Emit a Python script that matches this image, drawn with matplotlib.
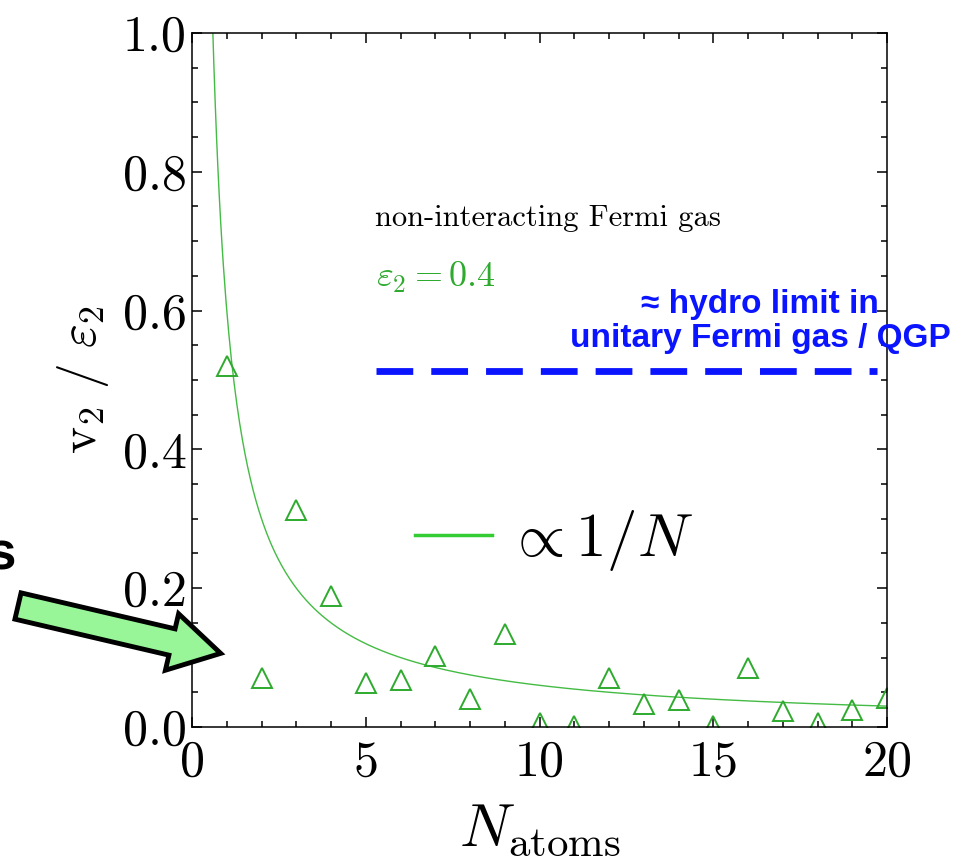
import numpy as np
from matplotlib import pyplot as plt
from matplotlib.lines import Line2D
from matplotlib.patches import FancyArrow
from matplotlib.transforms import IdentityTransform
from matplotlib.ticker import MultipleLocator, FuncFormatter

# simulated v2/eps2 per atom number
n_atoms = [1, 2, 3, 4, 5, 6, 7, 8, 9, 10, 11, 12, 13, 14, 15, 16, 17, 18, 19, 20]
v2_over_eps2 = [0.52, 0.071, 0.313, 0.189, 0.063, 0.068, 0.102, 0.040, 0.134, 0.006,
                0.001, 0.071, 0.033, 0.039, 0.001, 0.085, 0.023, 0.006, 0.024, 0.042]
fit_coef = 0.6          # curve ~ fit_coef / N
hydro_level = 0.513
hydro_range = [5.3, 19.7]

plt.rcParams['mathtext.fontset'] = 'cm'
plt.rcParams['font.family'] = ['cmr10', 'DejaVu Serif']
plt.rcParams['axes.formatter.use_mathtext'] = True

fig = plt.figure(figsize=(9.61, 8.59), dpi=100)
ax = fig.add_axes([0.1998, 0.1537, 0.7234, 0.8079])

green = '#2eaa2e'
n_fit = np.linspace(0.55, 20, 500)
ax.plot(n_fit, fit_coef / n_fit, color='#44bb44', lw=1.0)
ax.plot(n_atoms, v2_over_eps2, linestyle='none', marker='^', ms=14, mfc='none',
        mec=green, mew=1.4, clip_on=True)
ax.plot(hydro_range, [hydro_level, hydro_level], color='#0a14ff', lw=4.9,
        dashes=(5.4, 2.65), solid_capstyle='butt', dash_capstyle='butt')

ax.set_xlim(0, 20)
ax.set_ylim(0, 1.0)
ax.xaxis.set_major_locator(MultipleLocator(5))
ax.xaxis.set_minor_locator(MultipleLocator(1))
ax.yaxis.set_major_locator(MultipleLocator(0.2))
ax.yaxis.set_minor_locator(MultipleLocator(0.05))
ax.xaxis.set_major_formatter(FuncFormatter(lambda v, p: f'{v:.0f}'))
ax.yaxis.set_major_formatter(FuncFormatter(lambda v, p: f'{v:.1f}'))
ax.tick_params(which='both', direction='in', top=True, right=True, width=1.1)
ax.tick_params(which='major', length=7, labelsize=36, pad=4)
ax.tick_params(which='minor', length=4.5)
ax.tick_params(axis='x', which='major', pad=9)
for s in ax.spines.values():
    s.set_linewidth(1.1)

ax.set_xlabel(r'$N_{\mathrm{atoms}}$', fontsize=44, labelpad=12)
ax.set_ylabel(r'$\mathrm{v}_2\ /\ \varepsilon_2$', fontsize=37, labelpad=8)

ax.text(0.263, 0.733, 'non-interacting Fermi gas', transform=ax.transAxes,
        fontsize=22, color='black', va='center', ha='left')
ax.text(0.265, 0.648, r'$\varepsilon_2 = 0.4$', transform=ax.transAxes,
        fontsize=26, color=green, va='center', ha='left')
ax.text(0.817, 0.584, '\u2248 hydro limit in\nunitary Fermi gas / QGP', transform=ax.transAxes,
        fontsize=24, color='#0a14ff', fontweight='bold', family='Liberation Sans',
        ha='center', va='center', linespacing=1.15, clip_on=False)

proxy = Line2D([], [], color='#33cc33', lw=2.5)
ax.legend(handles=[proxy], labels=[r'$\propto 1/N$'], loc='center left',
          bbox_to_anchor=(0.321, 0.268), fontsize=44, frameon=False,
          borderaxespad=0, borderpad=0, handlelength=1.26, handletextpad=0.25)

# annotation arrow from the left (pixel coordinates)
fig.add_artist(FancyArrow(18, 859 - 606, 154, -36, width=27, head_width=58,
                          head_length=50, length_includes_head=False,
                          transform=IdentityTransform(), fc='#98f598', ec='black',
                          lw=3.5, joinstyle='miter'))
fig.text(15 / 961, 1 - 555 / 859, 's', fontsize=38, fontweight='bold',
         family='Liberation Sans', ha='right', va='center')

plt.savefig('out.png', dpi=100)
